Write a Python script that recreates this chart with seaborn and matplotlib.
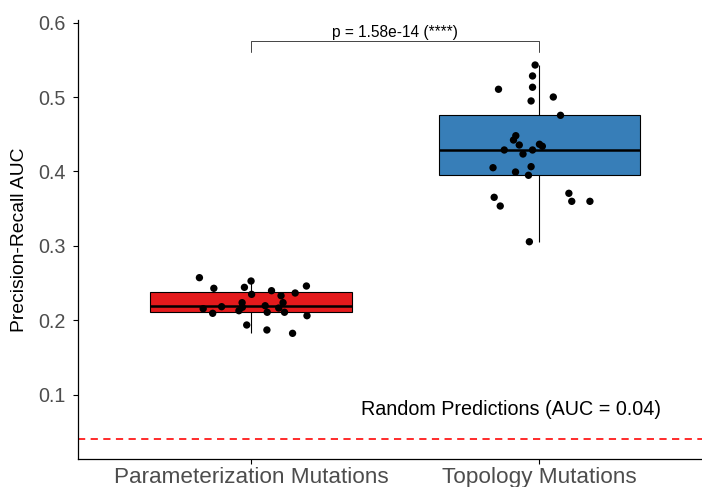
import numpy as np
import pandas as pd
import matplotlib
matplotlib.use("Agg")
import matplotlib.pyplot as plt
import seaborn as sns

# ---- data -------------------------------------------------------------
categories = ["Parameterization Mutations", "Topology Mutations"]
box_colors = ["#E41A1C", "#377EB8"]

param_auc = [0.2573, 0.2430, 0.2443, 0.2528, 0.2349, 0.2398, 0.2331, 0.2367,
             0.2461, 0.2156, 0.2094, 0.2183, 0.2129, 0.2237, 0.2175, 0.2196,
             0.2108, 0.2165, 0.2237, 0.2108, 0.2062, 0.1937, 0.1870, 0.1825]
param_jitter = [-0.179, -0.129, -0.023, 0.000, 0.002, 0.071, 0.104, 0.153,
                0.192, -0.166, -0.133, -0.102, -0.042, -0.031, -0.030, 0.049,
                0.056, 0.096, 0.111, 0.116, 0.194, -0.015, 0.055, 0.144]

topo_auc = [0.5431, 0.5284, 0.5132, 0.5105, 0.5001, 0.4948, 0.4755, 0.4481,
            0.4423, 0.4356, 0.4366, 0.4339, 0.4289, 0.4289, 0.4235, 0.4051,
            0.4065, 0.3993, 0.3949, 0.3653, 0.3536, 0.3707, 0.3599, 0.3599,
            0.3056]
topo_jitter = [-0.015, -0.024, -0.024, -0.142, 0.048, -0.029, 0.073, -0.082,
               -0.090, -0.070, 0.000, 0.010, -0.122, -0.024, -0.057, -0.161,
               -0.029, -0.083, -0.038, -0.157, -0.136, 0.102, 0.112, 0.175,
               -0.035]

random_auc = 0.04
p_label = "p = 1.58e-14 (****)"
random_label = f"Random Predictions (AUC = {random_auc:.2f})"
y_ticks = [0.1, 0.2, 0.3, 0.4, 0.5, 0.6]

# ---- tidy frame ---------------------------------------------------------
df = pd.DataFrame({
    "group": [categories[0]] * len(param_auc) + [categories[1]] * len(topo_auc),
    "pos": [0] * len(param_auc) + [1] * len(topo_auc),
    "auc": param_auc + topo_auc,
    "jitter": param_jitter + topo_jitter,
})
df["xj"] = df["pos"] + df["jitter"]

# ---- figure -------------------------------------------------------------
sns.set_theme(style="ticks")
plt.rcParams["font.family"] = ["Liberation Sans", "DejaVu Sans"]

W, H = 702, 487
fig = plt.figure(figsize=(W / 100, H / 100), dpi=100)
left_px, right_px, top_px, bottom_px = 78, 712.5, 20, 459.3
ax = fig.add_axes([left_px / W, 1 - bottom_px / H,
                   (right_px - left_px) / W, (bottom_px - top_px) / H])

sns.boxplot(data=df, x="pos", y="auc", hue="group",
            palette=dict(zip(categories, box_colors)), saturation=1,
            dodge=False, native_scale=True, width=0.7, whis=1.5,
            showfliers=False, showcaps=False, linewidth=0.8, linecolor="black",
            medianprops=dict(color="black", linewidth=1.8),
            legend=False, ax=ax)

sns.scatterplot(data=df, x="xj", y="auc", color="black", s=28,
                edgecolor="none", zorder=5, legend=False, ax=ax)

# reference line for a random classifier
ax.axhline(random_auc, color="#FF1A1A", linestyle=(0, (4, 3)), linewidth=1.3)
ax.text(0.9, 0.0795, random_label, ha="center", va="center",
        fontsize=14.2, color="black")

# significance bracket
y_br, y_tick_end = 0.5758, 0.5602
ax.plot([0, 0, 1, 1], [y_tick_end, y_br, y_br, y_tick_end],
        color="#444444", linewidth=0.7)
ax.text(0.5, 0.5804, p_label, ha="center", va="baseline", fontsize=11.2,
        color="black")

# axes styling
ax.set_xlim(-0.6, 1.6)
ax.set_ylim(0.0132, 0.6036)
ax.set_xticks([0, 1])
ax.set_xticklabels(categories)
ax.set_yticks(y_ticks)
ax.set_yticklabels([f"{v:.1f}" for v in y_ticks])
ax.set_xlabel("")
ax.set_ylabel("Precision-Recall AUC", fontsize=13.9, color="black")
ax.yaxis.set_label_coords(-0.079, 0.5)

for side in ("top", "right"):
    ax.spines[side].set_visible(False)
for side in ("left", "bottom"):
    ax.spines[side].set_color("black")
    ax.spines[side].set_linewidth(0.9)

ax.tick_params(axis="y", labelsize=14.2, labelcolor="#4D4D4D", length=3.6,
               width=0.8, color="black", pad=5)
ax.tick_params(axis="x", labelsize=16.2, labelcolor="#4D4D4D", length=3.6,
               width=0.8, color="black", pad=2)

fig.savefig("out.png", dpi=100)
